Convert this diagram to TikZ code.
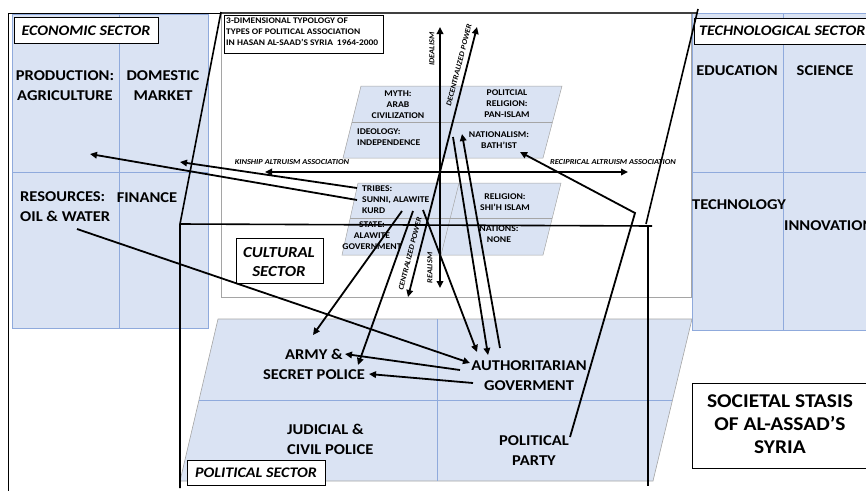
\documentclass[tikz,border=0pt]{standalone}
\usepackage{fontspec}
\setmainfont{Carlito}[FakeStretch=1.1,BoldFont={Carlito Bold},ItalicFont={Carlito Italic},BoldItalicFont={Carlito Bold Italic}]
\usetikzlibrary{arrows.meta}
\definecolor{secfill}{RGB}{218,227,243}
\definecolor{secline}{RGB}{143,170,220}
\definecolor{frameg}{RGB}{165,165,165}
\begin{document}
\begin{tikzpicture}[x=1pt,y=-1pt,
  sector/.style={fill=secfill, draw=secline, line width=0.6pt},
  plane/.style={fill=secfill, draw=frameg, line width=0.5pt},
  divider/.style={draw=secline, line width=0.6pt},
  pdivider/.style={draw=frameg, line width=0.5pt},
  labelbox/.style={draw=black, fill=white, line width=0.7pt},
  prism/.style={line width=1.6pt, black},
  conn/.style={line width=1.8pt, -{Triangle[length=7pt,width=6.5pt]}},
  dconn/.style={line width=1.8pt, {Triangle[length=7pt,width=6.5pt]}-{Triangle[length=7pt,width=6.5pt]}},
  bigtxt/.style={font=\bfseries\fontsize{15}{20}\selectfont, align=center, inner sep=0pt},
  bigtxtl/.style={font=\bfseries\fontsize{15}{20}\selectfont, align=left, inner sep=0pt},
  sectitle/.style={font=\bfseries\itshape\fontsize{14.6}{17}\selectfont, inner sep=0pt},
  smalltxt/.style={font=\bfseries\fontsize{8.8}{11}\selectfont, align=center, inner sep=0pt},
  smalltxtl/.style={font=\bfseries\fontsize{8.8}{11}\selectfont, align=left, inner sep=0pt},
  axistxt/.style={font=\bfseries\itshape\fontsize{7.6}{9}\selectfont, inner sep=0pt},
]
\useasboundingbox (0,0) rectangle (866,490);

% outer frame
\draw[line width=0.8pt] (8,500) -- (8,13) -- (222,13);

% economic sector
\draw[sector] (12,14) rectangle (208,328);
\draw[divider] (119,14) -- (119,328);
\draw[divider] (12,172) -- (208,172);

% technological sector
\draw[sector] (692,13) rectangle (872,330);
\draw[divider] (783,13) -- (783,330);
\draw[divider] (692,172) -- (872,172);

% cultural frame
\draw[frameg, line width=0.8pt] (221,13) rectangle (691,297);

% political sector
\draw[sector, draw=frameg] (218,319) -- (692,319) -- (653,481) -- (180,481) -- cycle;
\draw[divider] (437,319) -- (437,481);
\draw[divider] (199,400) -- (672,400);

% planes
\draw[plane] (361,86) -- (562,86) -- (543,158) -- (343,158) -- cycle;
\draw[pdivider] (352,122) -- (552,122);
\draw[plane] (358,183) -- (561,183) -- (543,255) -- (342,255) -- cycle;
\draw[pdivider] (350,218) -- (552,218);
\draw[pdivider] (459,183) -- (441,255);

% label boxes
\draw[labelbox] (14,17) rectangle (158,43);
\node[sectitle] (econ) at (86,31) {ECONOMIC SECTOR};
\draw[labelbox] (694,18) rectangle (872,44);
\node[sectitle, anchor=west] (tech) at (699,31) {TECHNOLOGICAL SECTOR};
\draw[labelbox] (224,15) rectangle (383,53);
\node[font=\bfseries\fontsize{8.6}{11}\selectfont, align=left, inner sep=0pt, anchor=north west] (title) at (226,18)
  {3-DIMENSIONAL TYPOLOGY OF\\TYPES OF POLITICAL ASSOCIATION\\IN HASAN AL-SAAD’S SYRIA\hspace{4pt}1964-2000};
\draw[labelbox] (236,238) rectangle (323,283);
\node[font=\bfseries\itshape\fontsize{15.3}{19}\selectfont, align=center, inner sep=0pt] (cult) at (279,262) {CULTURAL\\SECTOR};
\draw[labelbox] (187,460) rectangle (325,485);
\node[sectitle] (pol) at (256,473) {POLITICAL SECTOR};
\draw[labelbox] (692,383) rectangle (872,468);
\node[font=\bfseries\fontsize{19.5}{23}\selectfont, align=center, inner sep=0pt] (stasis) at (780,424) {SOCIETAL STASIS\\OF AL-ASSAD’S\\SYRIA};

% sector contents
\node[bigtxt] (prod) at (65,86) {PRODUCTION:\\AGRICULTURE};
\node[bigtxt] (dom) at (163,86) {DOMESTIC\\MARKET};
\node[bigtxtl, anchor=north west] (res) at (20,191) {RESOURCES:\\OIL \& WATER};
\node[bigtxt] (fin) at (147,198) {FINANCE};
\node[bigtxt] (edu) at (737,71) {EDUCATION};
\node[bigtxt] (sci) at (825,71) {SCIENCE};
\node[bigtxt] (techn) at (739,205) {TECHNOLOGY};
\node[bigtxt, anchor=west] (innov) at (784,226) {INNOVATION};
\node[bigtxt] (army) at (314,364) {ARMY \&\\SECRET POLICE};
\node[bigtxtl, anchor=north west] (jud) at (287,424) {JUDICIAL \&\\CIVIL POLICE};
\node[bigtxt] (auth) at (529,376) {AUTHORITARIAN\\GOVERMENT};
\node[bigtxt] (party) at (534,451) {POLITICAL\\PARTY};

% plane contents
\node[smalltxt] (myth) at (398,105) {MYTH:\\ARAB\\CIVILIZATION};
\node[smalltxt] (prel) at (507,104) {POLITCIAL\\RELIGION:\\PAN-ISLAM};
\node[smalltxtl, anchor=north west] (ideo) at (357,129) {IDEOLOGY:\\INDEPENDENCE};
\node[smalltxt] (nat) at (499,140) {NATIONALISM:\\BATH’IST};
\node[smalltxtl, anchor=north west] (tribes) at (362,186) {TRIBES:\\SUNNI, ALAWITE\\KURD};
\node[smalltxt] (state) at (372,236) {STATE:\\ALAWITE\\GOVERNMENT};
\node[smalltxt] (relig) at (505,202) {RELIGION:\\SHI’H ISLAM};
\node[smalltxt] (nations) at (499,234) {NATIONS:\\NONE};

% prism lines
\draw[prism, draw=black!75, line width=1.8pt] (221,13) -- (698,13);
\draw[prism] (221,12) -- (180,224) -- (180,488);
\draw[prism] (698,9) -- (646,224);
\draw[prism] (180,224) -- (652,226);
\draw[prism] (648,226) -- (648,486);

% axes
\coordinate (idT) at (440,27);
\coordinate (idB) at (440,288);
\draw[dconn] (idB) -- (idT);
\coordinate (dcT) at (477,27);
\coordinate (dcB) at (408,297);
\draw[dconn] (dcB) -- (dcT);
\coordinate (kinL) at (265,172);
\coordinate (recR) at (628,172);
\draw[dconn] (kinL) -- (recR);
\node[axistxt, rotate=90] (ideal) at (432,49) {IDEALISM};
\node[axistxt, rotate=90] (real) at (430,268) {REALISM};
\node[axistxt, rotate=75.6] (decen) at (459,65) {DECENTRALIZED POWER};
\node[axistxt, rotate=75.6] (cen) at (410,254) {CENTRALIZED POWER};
\node[axistxt] (kin) at (292,162) {KINSHIP ALTRUISM ASSOCIATION};
\node[axistxt] (rec) at (613,162) {RECIPRICAL ALTRUISM ASSOCIATION};

% connectors
\coordinate (tr1) at (357,188);
\coordinate (tr2) at (357,200);
\coordinate (domE) at (180,162);
\coordinate (prodE) at (90,154);
\draw[conn] (tr1) -- (domE);
\draw[conn] (tr2) -- (prodE);
\coordinate (oilS) at (77,229);
\coordinate (authW) at (470,363);
\draw[conn] (oilS) -- (authW);
\coordinate (su1) at (402,211);
\coordinate (su2) at (413,211);
\coordinate (su3) at (423,210);
\coordinate (armyN) at (313,335);
\coordinate (spN) at (358,365);
\coordinate (authN1) at (477,352);
\draw[conn] (su1) -- (armyN);
\draw[conn] (su2) -- (spN);
\draw[conn] (su3) -- (authN1);
\coordinate (natS1) at (453,137);
\coordinate (authN2) at (488,355);
\draw[conn] (natS1) -- (authN2);
\coordinate (authN3) at (500,348);
\coordinate (natS2) at (462,134);
\draw[conn] (authN3) -- (natS2);
\coordinate (partyN) at (570,437);
\coordinate (bend) at (635,213);
\coordinate (bathE) at (520,152);
\draw[conn] (partyN) -- (bend) -- (bathE);
\coordinate (auth1) at (460,370);
\coordinate (armyE) at (345,354);
\draw[conn] (auth1) -- (armyE);
\coordinate (auth2) at (473,383);
\coordinate (spE) at (369,374);
\draw[conn] (auth2) -- (spE);
\end{tikzpicture}
\end{document}
